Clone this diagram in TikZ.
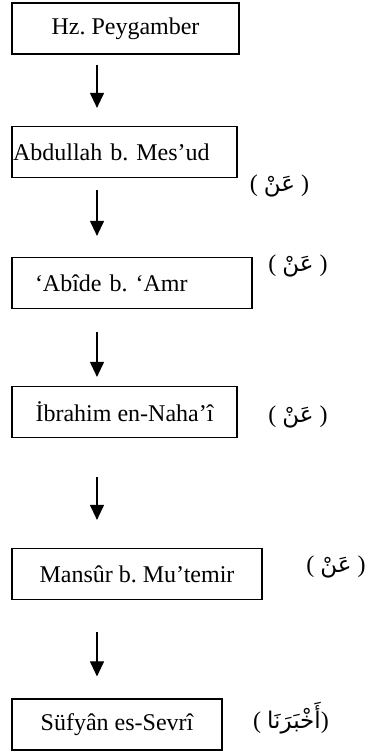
\documentclass[tikz,border=0pt]{standalone}
\usepackage{fontspec}
\setmainfont{Liberation Serif}
\newfontfamily\arabicfont[Script=Arabic]{DejaVu Sans}
\TeXXeTstate=1
\frenchspacing
\usetikzlibrary{arrows.meta}

\begin{document}
\begin{tikzpicture}[x=1pt,y=1pt,
    box/.style={draw,line width=1.2pt,inner sep=1pt,minimum height=51pt,
        font=\fontsize{24}{28}\selectfont},
    lab/.style={inner sep=0pt,font=\fontsize{24}{28}\selectfont},
    arr/.style={-{Triangle[width=14pt,length=15pt]},line width=1.1pt}]
\useasboundingbox (0,0) rectangle (364,-751);
%\draw[help lines] (0,0) grid[step=50] (364,-751);
\coordinate (ax) at (97,0);
\node[box,minimum width=227pt] (b1) at (125.5,-28.5) {Hz. Peygamber};
\node[box,text width=223pt,align=left] (b2) at (124.5,-152) {Abdullah b. Mes’ud};
\node[box,text width=194pt,inner xsep=23pt,align=left] (b3) at (132,-283) {‘Abîde b. ‘Amr};
\node[box,minimum width=225pt] (b4) at (124.5,-412) {İbrahim en-Naha’î};
\node[box,minimum width=250pt] (b5) at (137,-574) {Mansûr b. Mu’temir};
\node[box,minimum width=210pt] (b6) at (117,-724.5) {Süfyân es-Sevrî};
\node[lab] (l1) at (279.5,-186) {( {\arabicfont\fontsize{23}{28}\selectfont\beginR عَنْ\endR} )};
\node[lab] (l2) at (298,-266) {( {\arabicfont\fontsize{23}{28}\selectfont\beginR عَنْ\endR} )};
\node[lab] (l3) at (298,-417) {( {\arabicfont\fontsize{23}{28}\selectfont\beginR عَنْ\endR} )};
\node[lab] (l4) at (336,-567) {( {\arabicfont\fontsize{23}{28}\selectfont\beginR عَنْ\endR} )};
\node[lab] (l5) at (291,-718) {( {\arabicfont\fontsize{23}{28}\selectfont\beginR أَخْبَرَنَا\endR})};
\draw[arr,shorten <=10pt,shorten >=18pt] (b1.south -| ax) -- (b2.north -| ax);
\draw[arr,shorten <=12pt,shorten >=21pt] (b2.south -| ax) -- (b3.north -| ax);
\draw[arr,shorten <=23pt,shorten >=9pt] (b3.south -| ax) -- (b4.north -| ax);
\draw[arr,shorten <=39pt,shorten >=28pt] (b4.south -| ax) -- (b5.north -| ax);
\draw[arr,shorten <=32pt,shorten >=22pt] (b5.south -| ax) -- (b6.north -| ax);
\end{tikzpicture}
\end{document}
